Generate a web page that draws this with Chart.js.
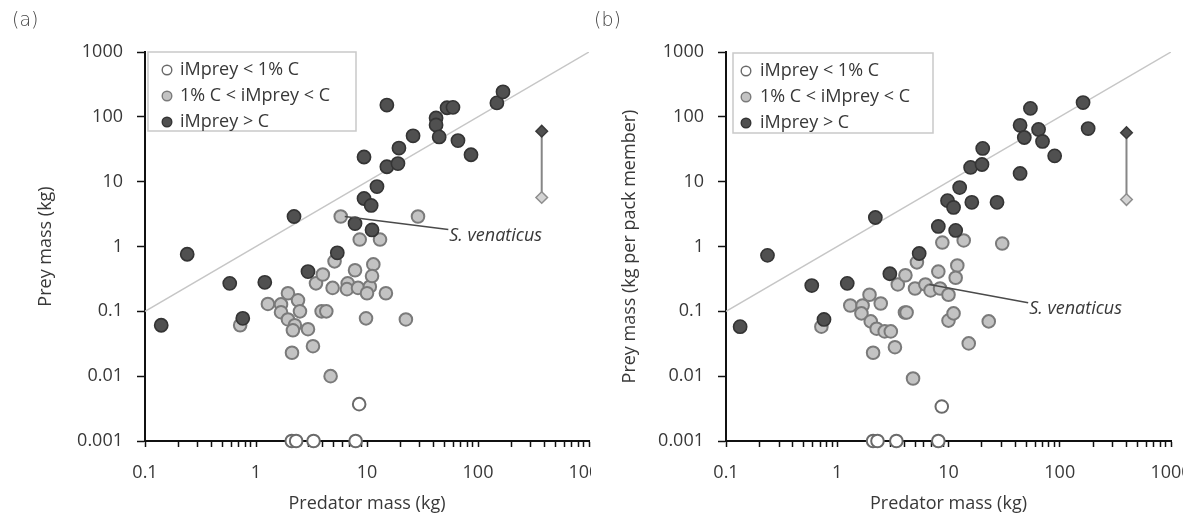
<!DOCTYPE html>
<html>
<head>
<meta charset="utf-8">
<script src="https://cdn.jsdelivr.net/npm/chart.js@4"></script>
<style>
html,body{margin:0;padding:0;background:#fff;width:1183px;height:518px;overflow:hidden;}
.panel{position:absolute;top:0;height:518px;overflow:hidden;}
#pa{left:0;width:591px;}
#pb{left:591px;width:592px;}
.panel canvas{position:absolute;left:0;top:0;}
.tag{position:absolute;top:8px;font-family:"DejaVu Sans",sans-serif;font-weight:200;font-size:19px;color:#444;}
</style>
</head>
<body>
<div id="pa" class="panel"><canvas id="ca" width="620" height="518" style="width:620px;height:518px"></canvas></div>
<div id="pb" class="panel"><canvas id="cb" width="620" height="518" style="width:620px;height:518px"></canvas></div>
<div class="tag" style="left:12px">(a)</div>
<div class="tag" style="left:594px">(b)</div>
<script>
// ---------- axes ----------
const xTickValues = [0.1, 1, 10, 100, 1000];
const xTickLabels = ['0.1', '1', '10', '100', '1000'];
const xMinorSteps = [2, 3, 4, 5, 6, 7, 8, 9];
const yTickValues = [0.001, 0.01, 0.1, 1, 10, 100, 1000];
const yTickLabels = ['0.001', '0.01', '0.1', '1', '10', '100', '1000'];
const legendLabels = ['iMprey < 1% C', '1% C < iMprey < C', 'iMprey > C'];
const refLineX = [0.1, 1000];
const refLineY = [0.1, 1000];
const noteText = 'S. venaticus';

// ---------- panel (a): prey mass ----------
const aOpenX = [8.5, 2.1, 2.3, 3.3, 7.9];
const aOpenY = [0.0037, 0.001, 0.001, 0.001, 0.001];
const aMidX = [0.72, 1.28, 1.68, 1.68, 1.94, 2.39, 2.49, 1.94, 2.24, 2.15, 2.94, 3.9, 4.3, 3.26, 2.11, 4.7, 9.8, 22.4, 3.47, 4.0, 4.9, 6.7, 6.6, 8.3, 10.6, 10.0, 14.8, 7.8, 11.4, 11.1, 5.1, 5.8, 28.8, 8.6, 13.1];
const aMidY = [0.061, 0.13, 0.128, 0.097, 0.19, 0.148, 0.1, 0.075, 0.061, 0.051, 0.053, 0.1, 0.1, 0.029, 0.023, 0.01, 0.078, 0.075, 0.27, 0.37, 0.23, 0.27, 0.22, 0.23, 0.24, 0.19, 0.19, 0.43, 0.53, 0.35, 0.59, 2.9, 2.9, 1.28, 1.28];
const aDarkX = [0.14, 0.24, 0.58, 0.76, 1.2, 2.2, 2.94, 5.4, 7.8, 11.1, 9.4, 10.9, 12.3, 9.4, 15.1, 19.0, 19.4, 15.1, 26, 41.9, 41.9, 44.7, 52.6, 59.5, 66, 86.5, 148, 168];
const aDarkY = [0.061, 0.76, 0.27, 0.078, 0.28, 2.9, 0.41, 0.8, 2.26, 1.8, 5.5, 4.3, 8.4, 24, 17, 19, 33, 152, 51, 96, 75, 49, 138, 140, 43, 26, 164, 243];
const aRangeX = [375, 375];
const aRangeY = [60, 5.7];
const aNotePoint = [5.8, 2.9];
const aNoteLabel = [54, 1.48];

// ---------- panel (b): prey mass per pack member ----------
const bOpenX = [8.7, 2.1, 2.3, 3.4, 8.1];
const bOpenY = [0.0034, 0.001, 0.001, 0.001, 0.001];
const bMidX = [0.72, 1.31, 1.69, 1.65, 1.95, 2.46, 2.0, 2.26, 2.67, 3.03, 4.06, 4.2, 3.3, 2.1, 4.8, 10, 23, 15.2, 3.5, 4.1, 5.0, 6.2, 6.9, 8.4, 10, 8.1, 12, 11.6, 5.2, 11.1, 8.8, 13.7, 30.4];
const bMidY = [0.058, 0.123, 0.123, 0.093, 0.18, 0.132, 0.07, 0.054, 0.049, 0.049, 0.096, 0.096, 0.028, 0.023, 0.0092, 0.072, 0.07, 0.032, 0.26, 0.36, 0.225, 0.26, 0.21, 0.225, 0.18, 0.41, 0.51, 0.33, 0.57, 0.093, 1.15, 1.24, 1.11];
const bDarkX = [0.134, 0.236, 0.59, 0.76, 1.23, 2.2, 2.97, 5.45, 8.1, 11.6, 9.8, 11.1, 16.2, 27.3, 12.6, 15.8, 20, 20.3, 44, 44, 48, 64.5, 70, 90, 54.5, 162, 180];
const bDarkY = [0.058, 0.73, 0.25, 0.075, 0.27, 2.8, 0.38, 0.78, 2.04, 1.77, 5.1, 4.0, 4.8, 4.8, 8.1, 16.6, 18.4, 32.6, 13.4, 74, 48, 64, 41.7, 25, 135, 166, 66];
const bRangeX = [398, 398];
const bRangeY = [57, 5.3];
const bNotePoint = [6.2, 0.26];
const bNoteLabel = [52, 0.11];

// ---------- helpers ----------
function pts(xs, ys) { return xs.map((v, i) => ({x: v, y: ys[i]})); }
function sameLog(a, b) { return Math.abs(Math.log10(a) - Math.log10(b)) < 1e-6; }
const allXTicks = [];
xTickValues.forEach((d, i) => {
  allXTicks.push(d);
  if (i < xTickValues.length - 1) xMinorSteps.forEach(m => allXTicks.push(m * d));
});

const STY = {
  open: {bg: '#ffffff', bd: '#6a6a6a', bw: 2,   r: 6.3},
  mid:  {bg: '#c3c3c3', bd: '#7a7a7a', bw: 2,   r: 6.3},
  dark: {bg: '#505050', bd: '#343434', bw: 1.6, r: 6.6}
};
const TXT = '#383838';
const FONT = {family: '"Open Sans", sans-serif', size: 18};

const overlay = {
  id: 'overlay',
  afterDatasetsDraw(chart, args, o) {
    const {ctx, chartArea: a, scales: {x, y}} = chart;
    ctx.save();
    // annotation
    const px = x.getPixelForValue(o.notePoint[0]), py = y.getPixelForValue(o.notePoint[1]);
    const lx = x.getPixelForValue(o.noteLabel[0]), ly = y.getPixelForValue(o.noteLabel[1]);
    ctx.strokeStyle = '#4a4a4a'; ctx.lineWidth = 1.5;
    ctx.beginPath(); ctx.moveTo(px + 4, py); ctx.lineTo(lx, ly - 6); ctx.stroke();
    ctx.font = 'italic 18px "Open Sans", sans-serif';
    ctx.fillStyle = TXT; ctx.textBaseline = 'middle'; ctx.textAlign = 'left';
    ctx.fillText(noteText, lx + 1, ly);
    // legend box
    const bx = a.left + o.boxDx, by = a.top + o.boxDy;
    ctx.fillStyle = '#fff'; ctx.fillRect(bx, by, o.boxW, o.boxH);
    ctx.strokeStyle = '#c9c9c9'; ctx.lineWidth = 1.5; ctx.strokeRect(bx, by, o.boxW, o.boxH);
    const keys = ['open', 'mid', 'dark'];
    ctx.font = '18px "Open Sans", sans-serif';
    legendLabels.forEach((lab, i) => {
      const s = STY[keys[i]];
      const cy = by + 18 + i * 26;
      ctx.beginPath(); ctx.arc(bx + o.markDx, cy, 4.8, 0, Math.PI * 2);
      ctx.fillStyle = s.bg; ctx.fill();
      ctx.lineWidth = 1.4; ctx.strokeStyle = s.bd; ctx.stroke();
      ctx.fillStyle = TXT; ctx.fillText(lab, bx + o.textDx, cy);
    });
    ctx.restore();
  }
};

function build(id, P) {
  const scatter = (key, xs, ys, label, order) => ({
    type: 'scatter', label, data: pts(xs, ys), order, clip: false,
    pointRadius: STY[key].r, pointBackgroundColor: STY[key].bg,
    pointBorderColor: STY[key].bd, pointBorderWidth: STY[key].bw,
    pointHoverRadius: STY[key].r
  });
  const datasets = [
    {type: 'line', data: pts(refLineX, refLineY), borderColor: '#c6c6c6', borderWidth: 1.5, pointRadius: 0, order: 5},
    scatter('open', P.openX, P.openY, legendLabels[0], 3),
    scatter('mid', P.midX, P.midY, legendLabels[1], 2),
    scatter('dark', P.darkX, P.darkY, legendLabels[2], 1),
    {type: 'line', data: pts(P.rangeX, P.rangeY), borderColor: '#868686', borderWidth: 2,
     pointStyle: 'rectRot', pointRadius: 5.8, pointHoverRadius: 5.8,
     pointBackgroundColor: ['#505050', '#d4d4d4'], pointBorderColor: ['#3a3a3a', '#8e8e8e'],
     pointBorderWidth: 1.5, order: 0, clip: false}
  ];
  new Chart(document.getElementById(id), {
    type: 'scatter',
    data: {datasets},
    options: {
      responsive: false, animation: false, devicePixelRatio: 1,
      layout: {padding: {left: 0, top: P.top, right: 620 - P.right, bottom: 0}},
      plugins: {legend: {display: false}, tooltip: {enabled: false}, overlay: P.overlay},
      scales: {
        x: {
          type: 'logarithmic', min: 0.1, max: 1000, position: 'bottom',
          afterBuildTicks: s => { s.ticks = allXTicks.map(v => ({value: v})); },
          afterFit: s => { s.height = 518 - P.bottom; s.paddingLeft = 0; s.paddingRight = 0; },
          ticks: {autoSkip: false, maxRotation: 0, minRotation: 0, padding: 15, color: TXT, font: FONT,
            callback: v => { const i = xTickValues.findIndex(t => sameLog(t, v)); return i >= 0 ? xTickLabels[i] : ''; }},
          grid: {display: true, drawOnChartArea: false, drawTicks: true, tickLength: 6, tickColor: '#111', tickWidth: 1.5},
          border: {display: true, color: '#111', width: 2},
          title: {display: true, text: 'Predator mass (kg)', color: TXT, font: FONT, padding: {top: 0, bottom: 3}}
        },
        y: {
          type: 'logarithmic', min: 0.001, max: 1000, position: 'left',
          afterBuildTicks: s => { s.ticks = yTickValues.map(v => ({value: v})); },
          afterFit: s => { s.width = P.left; },
          ticks: {autoSkip: false, padding: 14, color: TXT, font: FONT,
            callback: v => { const i = yTickValues.findIndex(t => sameLog(t, v)); return i >= 0 ? yTickLabels[i] : ''; }},
          grid: {display: true, drawOnChartArea: false, drawTicks: true, tickLength: 8, tickColor: '#111', tickWidth: 1.5},
          border: {display: true, color: '#111', width: 2},
          title: {display: true, text: P.yTitle, color: TXT, font: FONT, padding: {top: P.titlePad, bottom: 0}}
        }
      }
    },
    plugins: [overlay]
  });
}

build('ca', {
  left: 145, right: 589, top: 52, bottom: 441, titlePad: 35, yTitle: 'Prey mass (kg)',
  openX: aOpenX, openY: aOpenY, midX: aMidX, midY: aMidY, darkX: aDarkX, darkY: aDarkY,
  rangeX: aRangeX, rangeY: aRangeY,
  overlay: {notePoint: aNotePoint, noteLabel: aNoteLabel, boxDx: 3, boxDy: 0, boxW: 208, boxH: 79, markDx: 19, textDx: 32}
});
build('cb', {
  left: 135, right: 580, top: 52, bottom: 441, titlePad: 28, yTitle: 'Prey mass (kg per pack member)',
  openX: bOpenX, openY: bOpenY, midX: bMidX, midY: bMidY, darkX: bDarkX, darkY: bDarkY,
  rangeX: bRangeX, rangeY: bRangeY,
  overlay: {notePoint: bNotePoint, noteLabel: bNoteLabel, boxDx: 7, boxDy: 1, boxW: 200, boxH: 80, markDx: 13, textDx: 27}
});
</script>
</body>
</html>
